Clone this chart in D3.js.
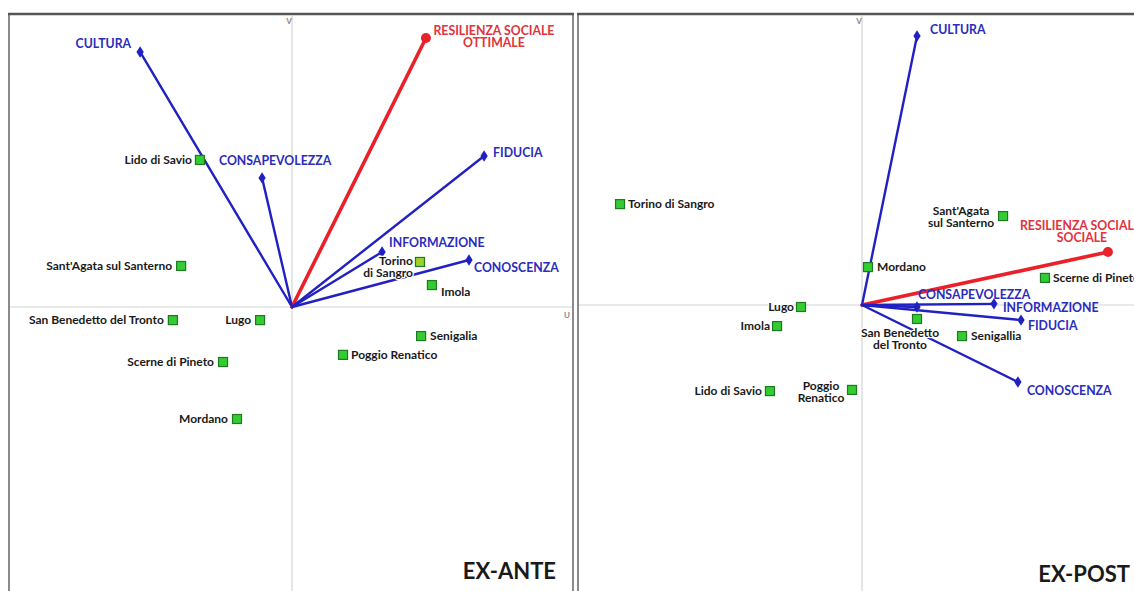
<!DOCTYPE html>
<html><head><meta charset="utf-8">
<script src="https://cdn.jsdelivr.net/npm/d3@7"></script>
<style>
html,body{margin:0;padding:0;background:#fff;}
svg{display:block;}
text{font-family:Lato,"Open Sans",sans-serif;font-weight:700;}
</style></head><body>
<svg id="c" width="1134" height="591"></svg>
<script>
// ---------- DATA (biplot coordinates, arbitrary units) ----------
const panels = ["EX-ANTE", "EX-POST"];

const exAnteVectorNames = ["CULTURA", "RESILIENZA SOCIALE OTTIMALE", "FIDUCIA", "CONSAPEVOLEZZA", "INFORMAZIONE", "CONOSCENZA"];
const exAnteVectorX = [-0.533, 0.470, 0.674, -0.105, 0.316, 0.621];
const exAnteVectorY = [0.895, 0.944, 0.530, 0.453, 0.193, 0.165];

const exAntePointNames = ["Lido di Savio", "Sant'Agata sul Santerno", "Torino di Sangro", "Imola", "San Benedetto del Tronto", "Lugo", "Senigalia", "Poggio Renatico", "Scerne di Pineto", "Mordano"];
const exAntePointX = [-0.323, -0.389, 0.449, 0.491, -0.418, -0.112, 0.453, 0.179, -0.242, -0.193];
const exAntePointY = [0.516, 0.144, 0.158, 0.077, -0.046, -0.046, -0.102, -0.168, -0.193, -0.393];

const exPostVectorNames = ["CULTURA", "RESILIENZA SOCIALE", "CONSAPEVOLEZZA", "INFORMAZIONE", "FIDUCIA", "CONOSCENZA"];
const exPostVectorX = [0.193, 0.863, 0.193, 0.463, 0.558, 0.547];
const exPostVectorY = [0.944, 0.186, -0.007, 0.004, -0.053, -0.270];

const exPostPointNames = ["Torino di Sangro", "Sant'Agata sul Santerno", "Mordano", "Scerne di Pineto", "Lugo", "Imola", "San Benedetto del Tronto", "Senigallia", "Lido di Savio", "Poggio Renatico"];
const exPostPointX = [-0.849, 0.495, 0.021, 0.642, -0.214, -0.298, 0.193, 0.351, -0.323, -0.035];
const exPostPointY = [0.354, 0.312, 0.133, 0.095, -0.007, -0.074, -0.049, -0.109, -0.302, -0.298];

const optimalVector = {"EX-ANTE": "RESILIENZA SOCIALE OTTIMALE", "EX-POST": "RESILIENZA SOCIALE"};

// ---------- LAYOUT / STYLE ----------
const BLUE = "#2121c2", BLUE_T = "#2b2bbd", RED = "#e8212b", RED_T = "#e2323c";
const PT_FONT = 12, VEC_FONT = 12.3;
const layout = {
  "EX-ANTE": {left: 9, right: 573, top: 14, ox: 292, oy: 307, s: 285, title: [556, 579]},
  "EX-POST": {left: 578, right: 1140, top: 14, ox: 862, oy: 305, s: 285, title: [1130, 582]}
};
// label placement: [dx, dy, anchor, lines(optional)]
const vecLabelPos = {
  "EX-ANTE": {
    "CULTURA": [-9, -4, "end"],
    "RESILIENZA SOCIALE OTTIMALE": [68, -3, "middle", ["RESILIENZA SOCIALE", "OTTIMALE"]],
    "FIDUCIA": [9, 1, "start"],
    "CONSAPEVOLEZZA": [13, -13, "middle"],
    "INFORMAZIONE": [7, -5, "start"],
    "CONOSCENZA": [5, 12, "start"]
  },
  "EX-POST": {
    "CULTURA": [13, -2, "start"],
    "RESILIENZA SOCIALE": [-26, -22, "middle", ["RESILIENZA SOCIALE", "SOCIALE"]],
    "CONSAPEVOLEZZA": [1, -8, "start"],
    "INFORMAZIONE": [9, 8, "start"],
    "FIDUCIA": [7, 10, "start"],
    "CONOSCENZA": [9, 13, "start"]
  }
};
const ptLabelPos = {
  "EX-ANTE": {
    "Lido di Savio": [-8, 4, "end"],
    "Sant'Agata sul Santerno": [-9, 4, "end"],
    "Torino di Sangro": [-7, 3, "end", ["Torino", "di Sangro"]],
    "Imola": [9, 11, "start"],
    "San Benedetto del Tronto": [-9, 4, "end"],
    "Lugo": [-9, 4, "end"],
    "Senigalia": [9, 4, "start"],
    "Poggio Renatico": [8, 4, "start"],
    "Scerne di Pineto": [-9, 4, "end"],
    "Mordano": [-9, 4, "end"]
  },
  "EX-POST": {
    "Torino di Sangro": [8, 4, "start"],
    "Sant'Agata sul Santerno": [-42, -1, "middle", ["Sant'Agata", "sul Santerno"]],
    "Mordano": [9, 4, "start"],
    "Scerne di Pineto": [8, 4, "start"],
    "Lugo": [-7, 4, "end"],
    "Imola": [-7, 4, "end"],
    "San Benedetto del Tronto": [-17, 18, "middle", ["San Benedetto", "del Tronto"]],
    "Senigallia": [9, 4, "start"],
    "Lido di Savio": [-8, 4, "end"],
    "Poggio Renatico": [-31, 0, "middle", ["Poggio", "Renatico"]]
  }
};

const svg = d3.select("#c");
svg.append("rect").attr("width", 1134).attr("height", 591).attr("fill", "#fff");

const dataSets = {
  "EX-ANTE": {vn: exAnteVectorNames, vx: exAnteVectorX, vy: exAnteVectorY, pn: exAntePointNames, px: exAntePointX, py: exAntePointY},
  "EX-POST": {vn: exPostVectorNames, vx: exPostVectorX, vy: exPostVectorY, pn: exPostPointNames, px: exPostPointX, py: exPostPointY}
};

panels.forEach(p => {
  const L = layout[p], D = dataSets[p];
  const x = d3.scaleLinear().domain([-1, 1]).range([L.ox - L.s, L.ox + L.s]);
  const y = d3.scaleLinear().domain([-1, 1]).range([L.oy + L.s, L.oy - L.s]);
  const g = svg.append("g");

  // axes through origin
  g.append("line").attr("x1", x(0)).attr("x2", x(0)).attr("y1", L.top + 2).attr("y2", 591)
    .attr("stroke", "#d4d4d4").attr("stroke-width", 1.2);
  g.append("line").attr("x1", L.left + 1).attr("x2", Math.min(L.right, 1134)).attr("y1", y(0)).attr("y2", y(0))
    .attr("stroke", "#d4d4d4").attr("stroke-width", 1.2);
  g.append("text").attr("x", x(0) - 3).attr("y", L.top + 10).attr("font-size", 8)
    .attr("text-anchor", "middle").attr("fill", "#888").attr("font-weight", 400).text("V");
  if (p === "EX-ANTE") {
    g.append("text").attr("x", L.right - 6).attr("y", y(0) + 11).attr("font-size", 8)
      .attr("text-anchor", "middle").attr("fill", "#888").attr("font-weight", 400).text("U");
  }

  // panel frame
  g.append("line").attr("x1", L.left).attr("x2", L.left).attr("y1", L.top).attr("y2", 591)
    .attr("stroke", "#8a8a8a").attr("stroke-width", 2);
  if (L.right < 1134) {
    g.append("line").attr("x1", L.right).attr("x2", L.right).attr("y1", L.top).attr("y2", 591)
      .attr("stroke", "#8a8a8a").attr("stroke-width", 2);
  }
  g.append("line").attr("x1", L.left - 1).attr("x2", L.right + 1).attr("y1", L.top).attr("y2", L.top)
    .attr("stroke", "#555").attr("stroke-width", 2.5);

  // vectors
  const vecs = D.vn.map((n, i) => ({name: n, x: D.vx[i], y: D.vy[i], opt: n === optimalVector[p]}));
  vecs.forEach(v => {
    g.append("line").attr("x1", x(0)).attr("y1", y(0)).attr("x2", x(v.x)).attr("y2", y(v.y))
      .attr("stroke", v.opt ? RED : BLUE).attr("stroke-width", v.opt ? 3.6 : 2.4).attr("stroke-linecap", "round");
    if (v.opt) {
      g.append("circle").attr("cx", x(v.x)).attr("cy", y(v.y)).attr("r", 5).attr("fill", RED);
    } else {
      g.append("path").attr("d", d3.symbol(d3.symbolDiamond, 42)())
        .attr("transform", `translate(${x(v.x)},${y(v.y)}) scale(1.05,0.95)`).attr("fill", BLUE);
    }
  });

  // points
  const pts = D.pn.map((n, i) => ({name: n, x: D.px[i], y: D.py[i]}));
  g.selectAll("rect.pt").data(pts).join("rect").attr("class", "pt")
    .attr("x", d => x(d.x) - 4.5).attr("y", d => y(d.y) - 4.5).attr("width", 9).attr("height", 9)
    .attr("fill", d => (p === "EX-ANTE" && d.name === "Torino di Sangro") ? "#9fd12a" : "#33cc33")
    .attr("stroke", "#1f7a1f").attr("stroke-width", 1.2);

  // point labels (with white halo)
  pts.forEach(d => {
    const pos = ptLabelPos[p][d.name];
    const lines = pos[3] || [d.name];
    const t = g.append("text").attr("x", x(d.x) + pos[0]).attr("y", y(d.y) + pos[1])
      .attr("text-anchor", pos[2]).attr("font-size", PT_FONT).attr("fill", "#1a1a1a")
      .attr("stroke", "#fff").attr("stroke-width", 2.5).attr("paint-order", "stroke").attr("stroke-linejoin", "round");
    lines.forEach((ln, k) => t.append("tspan").attr("x", x(d.x) + pos[0]).attr("dy", k ? 12 : 0).text(ln));
  });

  // vector labels
  vecs.forEach(v => {
    const pos = vecLabelPos[p][v.name];
    const lines = pos[3] || [v.name];
    const t = g.append("text").attr("x", x(v.x) + pos[0]).attr("y", y(v.y) + pos[1])
      .attr("text-anchor", pos[2]).attr("font-size", VEC_FONT).attr("fill", v.opt ? RED_T : BLUE_T);
    lines.forEach((ln, k) => {
      t.append("tspan").attr("dy", k ? 12.5 : 0).attr("x", x(v.x) + pos[0]).text(ln);
    });
    if (p === "EX-POST" && v.opt) {
      // first line is left-aligned from a fixed start in the reference
      t.select("tspan").attr("text-anchor", "start").attr("x", x(v.x) - 88);
    }
  });

  // panel title
  g.append("text").attr("x", L.title[0]).attr("y", L.title[1]).attr("text-anchor", "end")
    .attr("font-size", 22).attr("fill", "#1a1a1a").text(p);
});
</script>
</body></html>
